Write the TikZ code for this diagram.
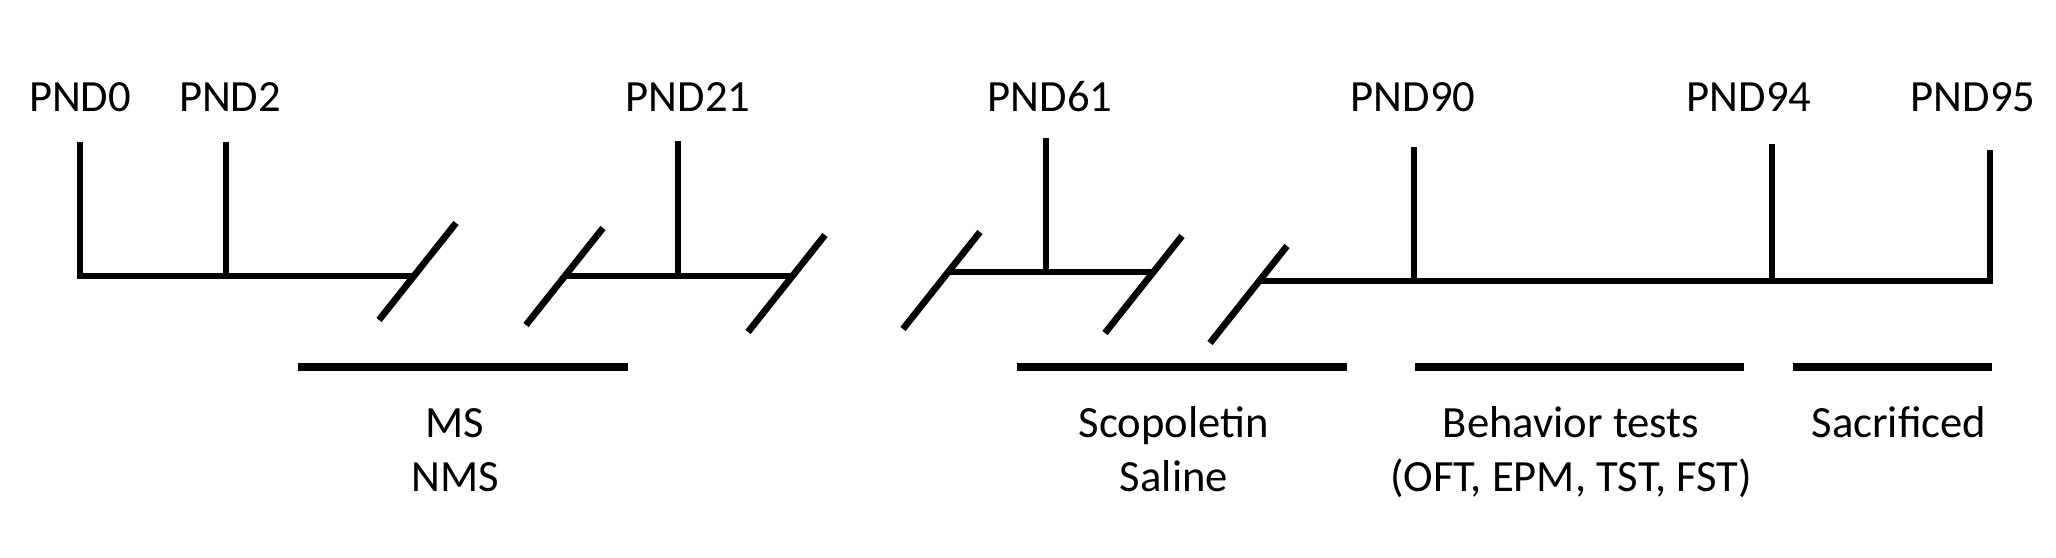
\documentclass[tikz,border=0pt]{standalone}
\usepackage{fontspec}
\setmainfont{Carlito}

\tikzset{
  axis/.style={line width=1.9pt},
  bar/.style={line width=2.4pt},
  lbl/.style={anchor=base, inner sep=0pt, font=\fontsize{12.7}{15}\selectfont},
}

\begin{document}
\begin{tikzpicture}[x=0.1mm,y=-0.1mm]

\def\brk(#1,#2){
  \draw[axis] (#1,#2) -- ++(77,-97);
}

\def\tick(#1,#2,#3){
  \draw[axis] (#1,#2) -- (#1,#3);
}

\useasboundingbox (0,0) rectangle (2056,558);

% timeline pieces
\draw[axis] (80,142) -- (80,276) -- (414,276);
\draw[axis] (565,276) -- (793,276);
\draw[axis] (949,272) -- (1154,272);
\draw[axis] (1260,281) -- (1990,281) -- (1990,150);

\tick(226,142,276)
\tick(678,141,276)
\tick(1046,138,272)
\tick(1414,147,281)
\tick(1772,144,278)

\brk(379,320)
\brk(526,325)
\brk(748,332)
\brk(903,329)
\brk(1105,333)
\brk(1210,343)

\node[lbl] (p0) at (80,112) {PND0};
\node[lbl] (p2) at (230,112) {PND2};
\node[lbl] (p21) at (688,112) {PND21};
\node[lbl] (p61) at (1050,112) {PND61};
\node[lbl] (p90) at (1413,112) {PND90};
\node[lbl] (p94) at (1749,112) {PND94};
\node[lbl] (p95) at (1973,112) {PND95};

% periods
\draw[bar] (298,367) -- (628,367);
\draw[bar] (1017,367) -- (1347,367);
\draw[bar] (1415,367) -- (1744,367);
\draw[bar] (1793,367) -- (1992,367);

\node[lbl] (ms) at (455,438) {MS};
\node[lbl] (nms) at (455,492) {NMS};
\node[lbl] (scop) at (1174,438) {Scopoletin};
\node[lbl] (sal) at (1174,492) {Saline};
\node[lbl] (beh) at (1571,438) {Behavior tests};
\node[lbl] (tests) at (1571,492) {(OFT, EPM, TST, FST)};
\node[lbl] (sac) at (1899,438) {Sacrificed};

\end{tikzpicture}
\end{document}
